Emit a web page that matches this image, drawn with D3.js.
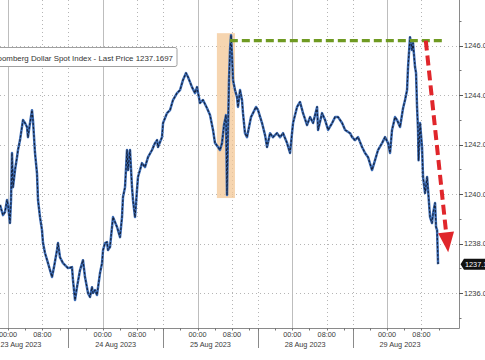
<!DOCTYPE html>
<html><head><meta charset="utf-8">
<script src="https://cdn.jsdelivr.net/npm/d3@7"></script>
<style>html,body{margin:0;padding:0;background:#fff;overflow:hidden}svg{display:block;font-family:"Liberation Sans",Arial,sans-serif}</style>
</head><body><svg id="c" width="485" height="360"></svg>
<script>
// trading-clock hours since 23 Aug 00:00 (each session spans 22h: 16:00 prev day .. 14:00)
const hours = [-1.86,-1.16,-0.70,-0.23,0,0.46,0.70,0.93,1.16,1.63,2.09,2.32,2.79,3.48,3.95,4.41,4.64,5.11,5.57,5.80,6.27,6.73,6.97,7.43,7.89,8.13,8.59,9.29,10.22,10.68,11.38,11.61,12.07,12.77,13.70,
13.93,14.86,15.09,15.56,16.02,16.72,17.41,17.88,18.58,19.04,19.50,19.74,20.20,20.66,21.36,21.83,22.07,22.53,22.99,23.22,23.68,24.38,25.31,26.01,26.47,26.70,27.17,27.63,27.86,28.33,28.79,29.02,29.49,29.95,30.18,31.11,31.81,32.51,33.44,34.13,34.60,34.83,
35.76,36.00,36.92,37.62,38.31,39.24,39.94,40.63,41.33,41.79,42.72,43.42,43.88,44.58,45.28,46.21,46.90,47.60,48.06,48.76,49.22,49.69,50.15,50.62,50.85,51.08,51.31,51.55,51.78,52.01,52.24,52.71,53.17,53.40,53.87,54.33,54.56,55.02,55.49,55.96,56.42,
57.58,58.05,58.98,59.68,60.14,60.84,61.53,62.46,63.16,63.86,64.79,65.48,66.18,67.11,67.80,68.50,69.43,70.13,70.83,71.76,71.99,72.92,73.62,74.32,75.25,75.94,76.64,77.57,78.27,
79.42,79.89,80.57,81.27,82.20,82.89,83.59,84.52,85.22,85.91,86.84,87.54,88.24,88.70,89.16,89.86,90.33,91.02,91.72,92.18,92.65,92.88,93.34,93.81,94.04,94.50,94.74,94.97,95.20,95.32,95.67,96.13,96.36,96.83,97.30,97.53,97.99,98.45,98.69,99.15,99.38,99.62,99.85];
const price = [1239.56,1239.15,1239.27,1239.76,1239.56,1238.83,1239.76,1241.66,1240.28,1240.97,1241.49,1241.78,1242.18,1242.99,1242.87,1242.71,1242.30,1242.87,1243.39,1242.99,1241.66,1240.85,1239.76,1239.07,1238.55,1238.02,1237.62,1237.21,1236.65,1237.05,1237.74,1238.02,1237.45,1237.21,1237.05,
1237.01,1237.05,1236.52,1235.72,1236.24,1236.93,1237.33,1236.65,1236.00,1235.84,1236.24,1236.00,1236.12,1235.92,1236.81,1237.21,1237.74,1238.02,1238.06,1237.74,1237.86,1239.07,1238.67,1238.26,1239.07,1239.88,1240.28,1241.78,1240.97,1241.78,1240.28,1239.76,1239.07,1240.16,1240.69,1241.25,1241.09,1241.49,1241.78,1242.06,1242.18,1241.90,
1242.30,1242.87,1243.27,1243.39,1243.80,1244.08,1244.20,1244.61,1244.89,1244.73,1244.32,1244.08,1244.32,1243.68,1243.80,1243.47,1243.19,1242.59,1242.06,1241.90,1241.78,1242.06,1242.79,1243.19,1239.96,1242.59,1244.61,1245.82,1246.42,1245.62,1244.61,1244.20,1243.92,1243.52,1244.20,1243.80,1243.27,1242.46,1242.30,1242.71,1243.11,
1243.52,1243.39,1242.87,1242.38,1241.90,1242.46,1242.30,1242.46,1242.30,1242.46,1242.06,1241.66,1242.87,1243.52,1243.72,1243.27,1242.79,1243.11,1242.87,1243.52,1242.59,1243.27,1242.99,1242.59,1242.87,1243.11,1243.11,1242.87,1242.59,
1242.46,1242.30,1242.18,1242.30,1241.90,1241.66,1241.49,1240.97,1241.37,1241.78,1242.06,1242.30,1242.06,1241.66,1242.59,1243.11,1242.99,1242.71,1243.47,1243.80,1244.20,1245.13,1246.34,1245.82,1246.10,1245.13,1244.89,1243.52,1242.59,1241.37,1242.87,1241.90,1240.69,1240.04,1240.69,1240.16,1239.07,1238.83,1239.23,1239.64,1238.67,1238.55,1237.17];

const sessionDates = ["23 Aug 2023","24 Aug 2023","25 Aug 2023","28 Aug 2023","29 Aug 2023"];
const timeLabels = ["00:00","08:00"];
const timeLabelHours = [0, 8];
const yTicks = [1236,1238,1240,1242,1244,1246];
const yMinorTicks = [1235,1237,1239,1241,1243,1245,1247];
const seriesName = "Bloomberg Dollar Spot Index - Last Price 1237.1697";
const lastPriceLabel = "1237.1697";
const lastPrice = 1237.1697;
// annotations
const boxHours = [48.5, 52.7];
const boxPrices = [1239.84, 1246.5];
const highLineHours = [51.5, 101.0];
const highLinePrice = 1246.2;
const arrowHours = [97.0, 102.2];
const arrowPrices = [1246.2, 1237.65];

const svg = d3.select("#c");
const W = 459, H = 328;
const x = d3.scaleLinear().domain([-1.857, 104.71]).range([0, W]);
const y = d3.scaleLinear().domain([1234.59, 1247.84]).range([H, 0]);
const sessionStart = k => 22*k - 8;

const grid = svg.append("g");
grid.selectAll(".hg").data(yTicks).join("line")
  .attr("x1",0).attr("x2",W).attr("y1",d=>Math.round(y(d))+0.5).attr("y2",d=>Math.round(y(d))+0.5)
  .attr("stroke","#b5b5b5").attr("stroke-dasharray","1,3");
sessionDates.forEach((d,k)=>{
  const h0 = 22*k;
  const xs = Math.round(x(h0))+0.5;
  grid.append("line").attr("x1",xs).attr("x2",xs).attr("y1",0).attr("y2",H).attr("stroke","#bdbdbd");
  const x8 = Math.round(x(h0+8))+0.5;
  grid.append("line").attr("x1",x8).attr("x2",x8).attr("y1",0).attr("y2",H).attr("stroke","#b5b5b5").attr("stroke-dasharray","1,3");
  if(k>0){
    const xb = Math.round(x(sessionStart(k)))+0.5;
    grid.append("line").attr("x1",xb).attr("x2",xb).attr("y1",0).attr("y2",H).attr("stroke","#b5b5b5").attr("stroke-dasharray","1,3");
    grid.append("line").attr("x1",xb).attr("x2",xb).attr("y1",H).attr("y2",348).attr("stroke","#8a8a8a");
  }
});

svg.append("rect").attr("x",x(boxHours[0])).attr("width",x(boxHours[1])-x(boxHours[0]))
  .attr("y",y(boxPrices[1])).attr("height",y(boxPrices[0])-y(boxPrices[1]))
  .attr("fill","#f3c795").attr("opacity",0.75);

svg.append("line").attr("x1",0).attr("x2",W+0.5).attr("y1",H+0.5).attr("y2",H+0.5).attr("stroke","#8a8a8a");
svg.append("line").attr("x1",W+0.5).attr("x2",W+0.5).attr("y1",0).attr("y2",H+0.5).attr("stroke","#8a8a8a");

const ya = svg.append("g");
ya.selectAll(".t").data(yTicks).join("line").attr("x1",W).attr("x2",W+4)
  .attr("y1",d=>Math.round(y(d))+0.5).attr("y2",d=>Math.round(y(d))+0.5).attr("stroke","#555");
ya.selectAll(".m").data(yMinorTicks).join("line").attr("x1",W).attr("x2",W+2.5)
  .attr("y1",d=>Math.round(y(d))+0.5).attr("y2",d=>Math.round(y(d))+0.5).attr("stroke","#777");
ya.selectAll("text").data(yTicks).join("text").attr("x",W+5).attr("y",d=>y(d)+2.6)
  .attr("font-size","7.5px").attr("fill","#3a3a3a").text(d=>d3.format(".1f")(d));

const xa = svg.append("g");
sessionDates.forEach((d,k)=>{
  for(let h=sessionStart(k); h<22*k+14; h+=4){
    const xt = Math.round(x(h))+0.5;
    xa.append("line").attr("x1",xt).attr("x2",xt).attr("y1",H).attr("y2",H+2.5).attr("stroke","#777");
  }
  timeLabels.forEach((t,i)=>{
    xa.append("text").attr("x",x(22*k+timeLabelHours[i])).attr("y",337).attr("text-anchor","middle")
      .attr("font-size","7.3px").attr("fill","#3a3a3a").text(t);
  });
  xa.append("text").attr("x",x(sessionStart(k)+11)).attr("y",346.5).attr("text-anchor","middle")
    .attr("font-size","7.3px").attr("fill","#3a3a3a").text(d);
});

const pts = hours.map((h,i)=>[h,price[i]]);
svg.append("clipPath").attr("id","pc").append("rect").attr("x",0).attr("y",0).attr("width",W).attr("height",H);
const line = d3.line().x(d=>x(d[0])).y(d=>y(d[1]));
const sg = svg.append("g").attr("clip-path","url(#pc)");
sg.append("path").attr("d",line(pts)).attr("fill","none").attr("stroke","#3f6fb8").attr("stroke-width",2.5).attr("stroke-linejoin","round");
sg.append("path").attr("d",line(pts)).attr("fill","none").attr("stroke","#16223b").attr("stroke-width",1.2).attr("stroke-linejoin","round").attr("stroke-dasharray","2.5,1.5");

svg.append("line").attr("x1",x(highLineHours[0])).attr("x2",x(highLineHours[1]))
  .attr("y1",y(highLinePrice)).attr("y2",y(highLinePrice))
  .attr("stroke","#6f9a22").attr("stroke-width",3.2).attr("stroke-dasharray","8,4");

const ax0 = x(arrowHours[0]), ay0 = y(arrowPrices[0]), ax1 = x(arrowHours[1]), ay1 = y(arrowPrices[1]);
const ang = Math.atan2(ay1-ay0, ax1-ax0);
const headLen = 20, headW = 8;
const bx = ax1 - headLen*Math.cos(ang), by = ay1 - headLen*Math.sin(ang);
svg.append("line").attr("x1",ax0).attr("y1",ay0).attr("x2",bx).attr("y2",by)
  .attr("stroke","#e0262b").attr("stroke-width",4).attr("stroke-dasharray","10,5");
svg.append("path").attr("d",`M${ax1},${ay1}L${bx+headW*Math.sin(ang)},${by-headW*Math.cos(ang)}L${bx-headW*Math.sin(ang)},${by+headW*Math.cos(ang)}Z`)
  .attr("fill","#e0262b");

const lg = svg.append("g");
lg.append("rect").attr("x",-12).attr("y",47.5).attr("width",189).attr("height",19).attr("rx",2)
  .attr("fill","#fff").attr("stroke","#a0a0a0");
lg.append("text").attr("x",173).attr("y",60.5).attr("text-anchor","end").attr("font-size","7.9px")
  .attr("fill","#333").text(seriesName);

const ly = y(lastPrice);
svg.append("path").attr("d",`M${W+1.5},${ly}L${W+5},${ly-5.5}H${W+30}V${ly+5.5}H${W+5}Z`).attr("fill","#111");
svg.append("text").attr("x",W+6).attr("y",ly+2.6).attr("font-size","7.3px").attr("fill","#fff").text(lastPriceLabel);
</script></body></html>
